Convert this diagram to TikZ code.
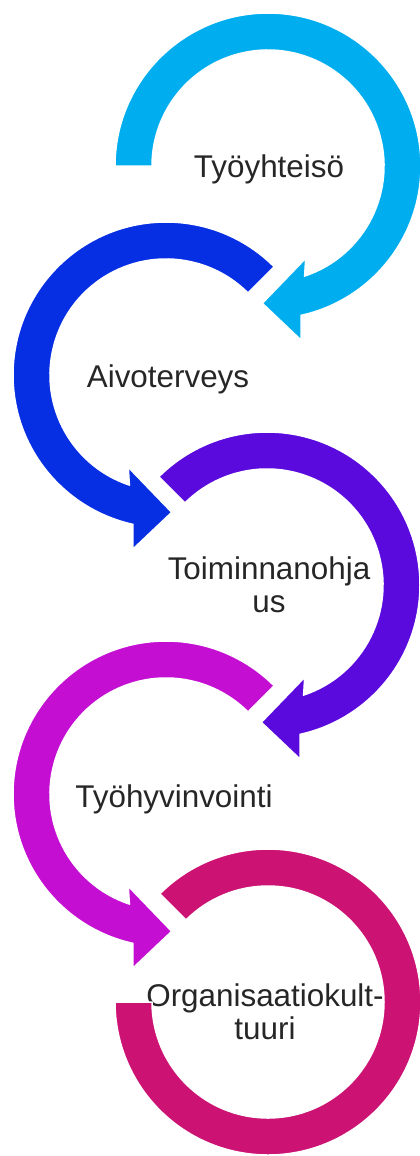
\documentclass[tikz,border=0pt]{standalone}
\usepackage{fontspec}
\setmainfont{Liberation Sans}
\usepackage{tikz}
\usepackage{xcolor}
\definecolor{ringA}{RGB}{0,174,239}
\definecolor{ringB}{RGB}{6,46,227}
\definecolor{ringC}{RGB}{90,10,220}
\definecolor{ringD}{RGB}{196,15,210}
\definecolor{ringE}{RGB}{204,18,115}
\definecolor{txtgray}{RGB}{38,38,38}
\tikzset{%
  ring/.style={draw=white, line width=1.5pt},
  ringtext/.style={text=txtgray, inner sep=0pt, align=center,
    font=\fontsize{31.4}{33.5}\selectfont}
}

\begin{document}
\begin{tikzpicture}[x=1pt,y=-1pt]
\useasboundingbox (0,0) rectangle (420,1156);
% centres of the rings
\coordinate (c1) at (268,166);
\coordinate (c2) at (166,375);
\coordinate (c3) at (267,585);
\coordinate (c4) at (166,794);
\coordinate (c5) at (268,1002);
% ring with arrow head, start angle as argument
\def\arrowring#1{(#1:153) arc[start angle=#1, end angle=437.5, radius=153]
  -- (33,174) -- (-5.7,137.3) -- (37.7,92.3)
  -- (431.6:116) arc[start angle=431.6, end angle=#1, radius=116] -- cycle}
\node[ringtext, anchor=base] (tyoyhteiso) at (269,177) {Työyhteisö};
\node[ringtext, anchor=base] (aivoterveys) at (168,387) {Aivoterveys};
\node[ringtext] (toiminnanohjaus) at (269,585) {Toiminnanohja\\us};
\node[ringtext, anchor=base] (tyohyvinvointi) at (174,807) {Työhyvinvointi};
\node[ringtext] (organisaatiokulttuuri) at (265,1012) {Organisaatiokult-\\tuuri};
\begin{scope}[shift={(c1)}]
  \filldraw[ring, fill=ringA] \arrowring{180};
\end{scope}
\begin{scope}[shift={(c2)}, xscale=-1]
  \filldraw[ring, fill=ringB] \arrowring{225};
\end{scope}
\begin{scope}[shift={(c3)}]
  \filldraw[ring, fill=ringC] \arrowring{225};
\end{scope}
\begin{scope}[shift={(c4)}, xscale=-1]
  \filldraw[ring, fill=ringD] \arrowring{225};
\end{scope}
\begin{scope}[shift={(c5)}]
  \filldraw[ring, fill=ringE] (225:153) arc[start angle=225, end angle=540, radius=153]
    -- (540:116) arc[start angle=540, end angle=225, radius=116] -- cycle;
\end{scope}
\end{tikzpicture}
\end{document}
